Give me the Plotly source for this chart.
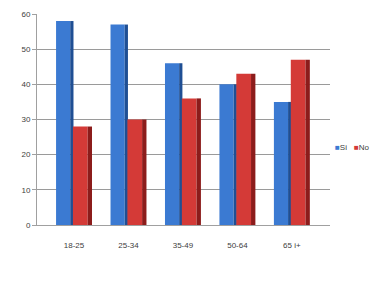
import plotly.graph_objects as go

categories = ["18-25", "25-34", "35-49", "50-64", "65 i+"]
si_values = [58, 57, 46, 40, 35]
no_values = [28, 30, 36, 43, 47]
series_names = ["Si", "No"]

blue_front = "#3b7ad2"
blue_side = "#1f4f94"
red_front = "#d43a37"
red_side = "#8c1c1b"

fig = go.Figure()
fig.add_trace(go.Bar(x=categories, y=si_values, name=series_names[0],
                     marker=dict(color=blue_front, line=dict(width=0)),
                     offset=-0.33, width=0.26, showlegend=False))
fig.add_trace(go.Bar(x=categories, y=si_values, name=series_names[0] + " side",
                     marker=dict(color=blue_side, line=dict(width=0)),
                     offset=-0.07, width=0.06, showlegend=False, hoverinfo="skip"))
fig.add_trace(go.Bar(x=categories, y=no_values, name=series_names[1],
                     marker=dict(color=red_front, line=dict(width=0)),
                     offset=-0.02, width=0.27, showlegend=False))
fig.add_trace(go.Bar(x=categories, y=no_values, name=series_names[1] + " side",
                     marker=dict(color=red_side, line=dict(width=0)),
                     offset=0.25, width=0.08, showlegend=False, hoverinfo="skip"))

# compact legend drawn as text
legend_items = [(series_names[0], blue_front), (series_names[1], red_front)]
legend_x = [1.01, 1.075]
for (name, col), lx in zip(legend_items, legend_x):
    fig.add_annotation(x=lx, y=0.365, xref="paper", yref="paper",
                       xanchor="left", yanchor="middle", showarrow=False,
                       text=f"<span style='color:{col}'>■</span>{name}",
                       font=dict(family="Liberation Sans", size=8, color="#404040"))

fig.update_layout(
    width=381, height=284,
    margin=dict(l=37, r=51, t=14, b=59, autoexpand=False),
    paper_bgcolor="white", plot_bgcolor="white",
    barmode="overlay",
    showlegend=False,
    font=dict(family="Liberation Sans", size=8, color="#404040"),
    xaxis=dict(type="category", range=[-0.68, 4.7], showgrid=False,
               showline=True, linecolor="#a0a0a0", linewidth=1,
               ticks="", ticklabelstandoff=12, tickfont=dict(size=8, color="#404040")),
    yaxis=dict(range=[0, 60], tickvals=[0, 10, 20, 30, 40, 50, 60], showgrid=True,
               gridcolor="#9a9a9a", gridwidth=1, showline=True, linecolor="#a0a0a0",
               ticks="outside", ticklen=4, tickcolor="#a0a0a0",
               tickfont=dict(size=8, color="#404040"), zeroline=False),
)

fig.write_html("out.html")
